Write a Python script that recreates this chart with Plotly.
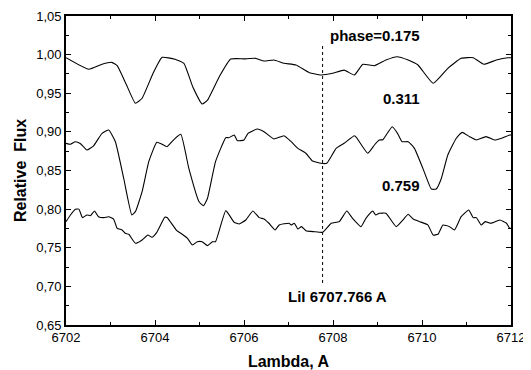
import plotly.graph_objects as go

# phase = 0.175 (top spectrum)
wl_175 = [6702.00, 6702.51, 6702.81, 6703.03, 6703.15, 6703.35, 6703.56, 6703.71, 6703.95, 6704.16,
          6704.45, 6704.65, 6704.85, 6705.06, 6705.18, 6705.45, 6705.70, 6706.00, 6706.26, 6706.45,
          6706.67, 6706.90, 6707.17, 6707.47, 6707.73, 6707.99, 6708.25, 6708.48, 6708.67, 6708.93,
          6709.19, 6709.44, 6709.69, 6709.91, 6710.25, 6710.58, 6710.88, 6711.15, 6711.39, 6711.67,
          6711.93, 6712.00]
fx_175 = [0.996, 0.981, 0.9875, 0.990, 0.9857, 0.962, 0.937, 0.9435, 0.975, 0.9965,
          0.994, 0.9888, 0.958, 0.936, 0.941, 0.972, 0.9943, 0.9945, 0.9952, 0.9917,
          0.993, 0.9888, 0.9866, 0.9766, 0.9736, 0.9758, 0.980, 0.9736, 0.9875, 0.9857,
          0.993, 0.9973, 0.993, 0.9866, 0.9629, 0.9823, 0.9952, 0.996, 0.9875, 0.993,
          0.996, 0.996]

# phase = 0.311 (middle spectrum)
wl_311 = [6702.00, 6702.10, 6702.21, 6702.32, 6702.47, 6702.62, 6702.81, 6702.96, 6703.11, 6703.30,
          6703.48, 6703.56, 6703.71, 6703.86, 6704.04, 6704.16, 6704.27, 6704.43, 6704.58, 6704.76,
          6704.99, 6705.09, 6705.18, 6705.36, 6705.59, 6705.66, 6705.78, 6705.85, 6706.00, 6706.09,
          6706.30, 6706.45, 6706.67, 6706.90, 6707.06, 6707.21, 6707.39, 6707.54, 6707.73, 6707.86,
          6708.07, 6708.25, 6708.48, 6708.53, 6708.78, 6708.93, 6709.04, 6709.12, 6709.33, 6709.45,
          6709.55, 6709.69, 6709.83, 6710.02, 6710.21, 6710.32, 6710.43, 6710.58, 6710.77, 6710.90,
          6711.07, 6711.22, 6711.44, 6711.63, 6711.82, 6711.97, 6712.00]
fx_311 = [0.8852, 0.884, 0.8873, 0.885, 0.8765, 0.882, 0.8981, 0.9024, 0.8873, 0.839,
          0.7924, 0.7967, 0.8226, 0.8614, 0.8865, 0.884, 0.8808, 0.8904, 0.8968, 0.8528,
          0.8096, 0.8044, 0.814, 0.8614, 0.8925, 0.8925, 0.896, 0.8886, 0.8895, 0.8981,
          0.9037, 0.9002, 0.8908, 0.895, 0.8873, 0.8787, 0.8723, 0.8623, 0.8593, 0.8593,
          0.8787, 0.8852, 0.895, 0.8925, 0.8723, 0.883, 0.8895, 0.8898, 0.9067, 0.8981,
          0.8873, 0.8873, 0.8787, 0.8528, 0.826, 0.826, 0.839, 0.870, 0.8917, 0.8994,
          0.8938, 0.8895, 0.8938, 0.8895, 0.8925, 0.896, 0.896]

# phase = 0.759 (bottom spectrum)
wl_759 = [6702.00, 6702.10, 6702.21, 6702.29, 6702.37, 6702.47, 6702.55, 6702.64, 6702.73, 6702.85,
          6702.96, 6703.07, 6703.15, 6703.26, 6703.33, 6703.41, 6703.56, 6703.71, 6703.84, 6703.93,
          6704.04, 6704.22, 6704.27, 6704.49, 6704.58, 6704.73, 6704.84, 6704.95, 6705.06, 6705.18,
          6705.29, 6705.36, 6705.59, 6705.78, 6705.89, 6706.04, 6706.20, 6706.34, 6706.45, 6706.56,
          6706.70, 6706.79, 6707.01, 6707.06, 6707.13, 6707.21, 6707.29, 6707.39, 6707.58, 6707.77,
          6707.96, 6708.14, 6708.31, 6708.44, 6708.63, 6708.74, 6708.89, 6708.96, 6709.04, 6709.19,
          6709.42, 6709.57, 6709.69, 6709.80, 6709.95, 6710.13, 6710.25, 6710.36, 6710.47, 6710.62,
          6710.73, 6710.88, 6711.05, 6711.15, 6711.22, 6711.33, 6711.42, 6711.55, 6711.75, 6711.90,
          6711.97, 6712.00]
fx_759 = [0.7838, 0.7924, 0.7998, 0.800, 0.789, 0.7924, 0.7915, 0.7976, 0.7902, 0.789,
          0.7902, 0.7872, 0.7752, 0.773, 0.7687, 0.7674, 0.7558, 0.760, 0.7665, 0.7635,
          0.770, 0.7894, 0.7892, 0.7721, 0.7687, 0.7622, 0.7536, 0.7578, 0.7578, 0.7527,
          0.7578, 0.7578, 0.798, 0.783, 0.7807, 0.7859, 0.7976, 0.789, 0.7872, 0.7817,
          0.773, 0.7795, 0.7817, 0.7795, 0.7817, 0.7743, 0.7773, 0.7721, 0.7708, 0.770,
          0.7817, 0.7838, 0.7976, 0.7881, 0.7773, 0.7881, 0.7976, 0.7925, 0.7946, 0.7946,
          0.7773, 0.7859, 0.7933, 0.7872, 0.7838, 0.7795, 0.7665, 0.7674, 0.7795, 0.7773,
          0.773, 0.7902, 0.7989, 0.789, 0.789, 0.7795, 0.7838, 0.7817, 0.7859, 0.7817,
          0.7752, 0.7752]

LI_LINE = 6707.766
LI_LINE_Y = [0.7044, 1.0125]

FONT = "Arial, Liberation Sans, sans-serif"

fig = go.Figure()
for wl, fx in [(wl_175, fx_175), (wl_311, fx_311), (wl_759, fx_759)]:
    fig.add_trace(go.Scatter(x=wl, y=fx, mode="lines",
                             line=dict(color="black", width=1.1, shape="spline", smoothing=0.4),
                             showlegend=False))

fig.add_trace(go.Scatter(x=[LI_LINE, LI_LINE], y=LI_LINE_Y, mode="lines",
                         line=dict(color="black", width=1, dash="dot"), showlegend=False))

labels = [
    (6707.89, 1.0254, "phase=0.175", "left"),
    (6709.54, 0.9426, "0.311", "center"),
    (6709.52, 0.830, "0.759", "center"),
    (6708.11, 0.6866, "LiI 6707.766 A", "center"),
]
for x, y, t, xa in labels:
    fig.add_annotation(x=x, y=y, text="<b>%s</b>" % t, showarrow=False, xanchor=xa,
                       yanchor="middle", font=dict(family=FONT, size=15, color="black"))

axis_common = dict(
    showline=True, linecolor="black", linewidth=1.6, mirror="allticks",
    ticks="inside", ticklen=5, tickwidth=1.2, tickcolor="black",
    showgrid=False, zeroline=False, automargin=False,
    tickfont=dict(family=FONT, size=13, color="black"),
)

fig.update_xaxes(range=[6702, 6712], dtick=2, tick0=6702,
                 minor=dict(dtick=1, ticks="inside", ticklen=3, tickwidth=1.2, tickcolor="black"),
                 title=dict(text="<b>Lambda, A</b>", font=dict(family=FONT, size=16, color="black"),
                            standoff=12),
                 **axis_common)
fig.update_yaxes(range=[0.65, 1.05], dtick=0.05, tick0=0.65, tickformat=".2f",
                 minor=dict(dtick=0.025, ticks="inside", ticklen=3, tickwidth=1.2, tickcolor="black"),
                 title=dict(text="<b>Relative  Flux</b>", font=dict(family=FONT, size=16, color="black"),
                            standoff=6),
                 **axis_common)

# the page body adds an 8px margin, so the figure is sized 8px smaller on each axis
fig.update_layout(
    width=523, height=362,
    margin=dict(l=58, r=20, t=8, b=45),
    plot_bgcolor="white", paper_bgcolor="white",
    separators=", ",
    font=dict(family=FONT, color="black"),
)

fig.write_html("out.html")
